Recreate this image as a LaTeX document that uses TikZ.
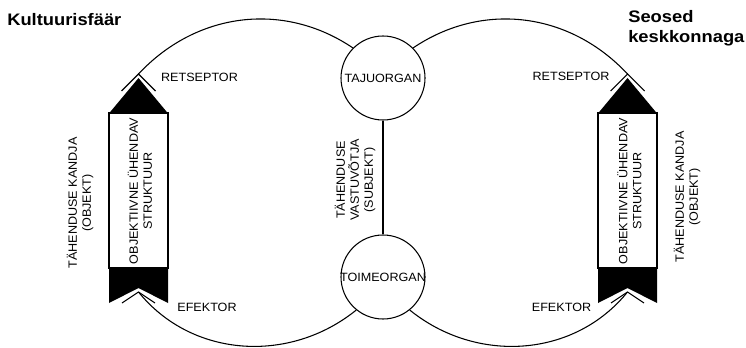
\documentclass[tikz,border=0pt]{standalone}
\usepackage{fontspec}
\setmainfont[FakeStretch=1.05]{Liberation Sans}
\newfontfamily\titlefont[FakeStretch=1.1]{Liberation Sans}
\usetikzlibrary{positioning}

\begin{document}
\begin{tikzpicture}[x=0.75pt, y=0.75pt,
		organ/.style={circle, draw, line width=0.8pt, minimum size=63pt, inner sep=0pt},
		lbl/.style={font=\fontsize{9}{10.5}\selectfont, align=center, inner sep=0pt},
		loop/.style={line width=0.8pt},
		chev/.style={line width=0.8pt},
		title/.style={font=\titlefont\bfseries\fontsize{12.5}{15}\selectfont, align=left, inner sep=0pt}]
	\useasboundingbox (0,0) rectangle (746,347);
	
	% organs of the subject
	\node[organ, label={[lbl]center:TAJUORGAN}] (taju) at (383,269) {};
	\node[organ, label={[lbl]center:TOIMEORGAN}] (toime) at (383,70) {};
	\draw[loop] (taju) -- (toime);
	\node[lbl, rotate=90] (subj) at (355,167) {TÄHENDUSE\\VASTUVÕTJA\\(SUBJEKT)};
	
	% left pillar
	\draw[line width=0.8pt] (109,79) rectangle (168,234);
	\fill (109,233.6) -- (138.5,269) -- (168,233.6) -- cycle;
	\fill (109,79.4) -- (168,79.4) -- (168,44) -- (138.5,59) -- (109,44) -- cycle;
	\coordinate (ltop) at (138.5,273);
	\coordinate (lbot) at (138.5,55);
	\draw[chev] (ltop) ++(-17,-17) -- (ltop) -- ++(17,-17);
	\draw[chev] (lbot) ++(-16.5,-11) -- (lbot) -- ++(16.5,-11);
	\node[lbl, rotate=90] (lstruct) at (140,156) {OBJEKTIIVNE ÜHENDAV\\STRUKTUUR};
	\node[lbl, rotate=90] (lobj) at (80,144) {TÄHENDUSE KANDJA\\(OBJEKT)};
	
	% right pillar
	\draw[line width=0.8pt] (598,79) rectangle (657,234);
	\fill (598,233.6) -- (627.5,269) -- (657,233.6) -- cycle;
	\fill (598,79.4) -- (657,79.4) -- (657,44) -- (627.5,59) -- (598,44) -- cycle;
	\coordinate (rtop) at (627.5,273);
	\coordinate (rbot) at (627.5,55);
	\draw[chev] (rtop) ++(-17,-17) -- (rtop) -- ++(17,-17);
	\draw[chev] (rbot) ++(-16.5,-11) -- (rbot) -- ++(16.5,-11);
	\node[lbl, rotate=90] (rstruct) at (629.5,156) {OBJEKTIIVNE ÜHENDAV\\STRUKTUUR};
	\node[lbl, rotate=90] (robj) at (687,150) {TÄHENDUSE KANDJA\\(OBJEKT)};
	
	% the two loops
	\draw[loop] (ltop) to[out=47, in=146] (taju.135);
	\draw[loop] (lbot) to[out=-51, in=219] (toime.231);
	\draw[loop] (rtop) to[out=133, in=34] (taju.45);
	\draw[loop] (rbot) to[out=231, in=-39] (toime.309);
	
	\node[lbl] (lret) at (199.5,270) {RETSEPTOR};
	\node[lbl] (rret) at (571,271) {RETSEPTOR};
	\node[lbl] (lefe) at (207,40) {EFEKTOR};
	\node[lbl] (refe) at (561.5,40) {EFEKTOR};
	
	\node[title, anchor=west] (kultuur) at (7,327) {Kultuurisfäär};
	\node[title, anchor=west] (seosed) at (628,319) {Seosed\\keskkonnaga};
\end{tikzpicture}
\end{document}
